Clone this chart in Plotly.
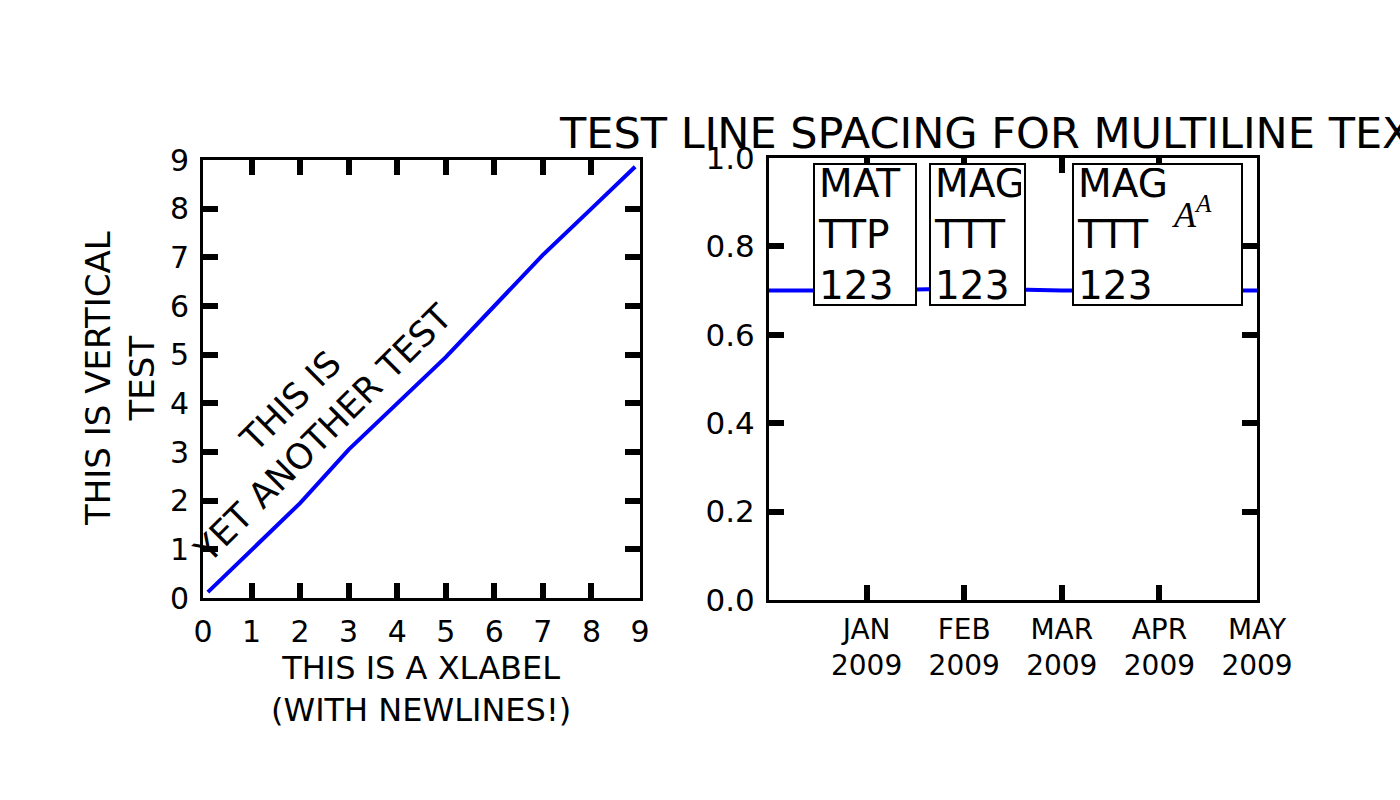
import plotly.graph_objects as go

# ---- data ----
left_x = [0.1, 1, 2, 3, 4, 5, 6, 7, 8, 8.9]
left_y = [0.12, 1.0, 1.95, 3.05, 4.0, 4.95, 6.0, 7.05, 8.0, 8.86]
left_ticks = list(range(10))

right_x = [0, 1, 2, 3, 4, 5]
right_y = [0.70, 0.70, 0.705, 0.70, 0.70, 0.70]
month_pos = [1, 2, 3, 4, 5]
month_labels = ["JAN<br>2009", "FEB<br>2009", "MAR<br>2009", "APR<br>2009", "MAY<br>2009"]
y2_ticks = [0.0, 0.2, 0.4, 0.6, 0.8, 1.0]

box_texts = ["MAT<br>TTP<br>123", "MAG<br>TTT<br>123", "MAG<br>TTT<br>123"]
box_x = [0.45, 1.64, 3.10]
box_w = [94, 87, 161]

title_text = "TEST LINE SPACING FOR MULTILINE TEXT"
xlabel_text = "THIS IS A XLABEL<br>(WITH NEWLINES!)"
ylabel_text = "THIS IS VERTICAL<br>TEST"
rot_text = "THIS IS<br>YET ANOTHER TEST"

FONT = "DejaVu Sans"
W, H = 1400, 800

fig = go.Figure()
fig.add_trace(go.Scatter(x=left_x, y=left_y, mode="lines",
                         line=dict(color="#0000ff", width=4), xaxis="x", yaxis="y",
                         showlegend=False, hoverinfo="skip"))
fig.add_trace(go.Scatter(x=right_x, y=right_y, mode="lines",
                         line=dict(color="#0000ff", width=4), xaxis="x2", yaxis="y2",
                         showlegend=False, hoverinfo="skip"))


def axis_style(size, standoff=5):
    return dict(showline=True, linewidth=3, linecolor="black", mirror="ticks",
                ticks="inside", ticklen=15, tickwidth=6, tickcolor="black",
                showgrid=False, zeroline=False, automargin=False,
                tickfont=dict(family=FONT, size=size, color="black"),
                ticklabelstandoff=standoff)


fig.update_layout(
    width=W, height=H,
    margin=dict(l=0, r=0, t=0, b=0),
    paper_bgcolor="white", plot_bgcolor="white",
    font=dict(family=FONT, color="black"),
    xaxis=dict(domain=[203 / W, 640 / W], range=[0, 9], tickvals=left_ticks,
               anchor="y", **axis_style(30)),
    yaxis=dict(domain=[1 - 598 / H, 1 - 160 / H], range=[0, 9], tickvals=left_ticks,
               anchor="x", **axis_style(30)),
    xaxis2=dict(domain=[769 / W, 1257 / W], range=[0, 5], tickvals=month_pos,
                ticktext=month_labels, anchor="y2", **axis_style(28, 2)),
    yaxis2=dict(domain=[1 - 600 / H, 1 - 158 / H], range=[0, 1], tickvals=y2_ticks,
                tickformat=".1f", anchor="x2", **axis_style(31)),
)

ann = []
# rotated text in left panel
ann.append(dict(x=2.15, y=3.72, xref="x", yref="y", text=rot_text, textangle=-45,
                showarrow=False, font=dict(family=FONT, size=35, color="black"),
                align="center", xanchor="center", yanchor="middle"))
# axis labels
ann.append(dict(x=421.5 / W, y=1 - 689 / H, xref="paper", yref="paper", text=xlabel_text,
                xanchor="center", yanchor="middle",
                showarrow=False, font=dict(family=FONT, size=32, color="black"),
                align="center"))
ann.append(dict(x=120 / W, y=1 - 379 / H, xref="paper", yref="paper", text=ylabel_text,
                xanchor="center", yanchor="middle",
                textangle=-90, showarrow=False, font=dict(family=FONT, size=34, color="black"),
                align="center"))
# title
ann.append(dict(x=557 / W, y=1 - 133 / H, xref="paper", yref="paper", text=title_text,
                xanchor="left", yanchor="middle", showarrow=False,
                font=dict(family=FONT, size=43, color="black")))
# boxed texts
for t, bx, bw in zip(box_texts, box_x, box_w):
    ann.append(dict(x=bx, y=0.989, xref="x2", yref="y2", text=t, xanchor="left",
                    yanchor="top", showarrow=False, align="left", width=bw, height=133,
                    bgcolor="white", bordercolor="black", borderwidth=2, borderpad=3,
                    font=dict(family=FONT, size=39, color="black")))
# math superscript in the third box
ann.append(dict(x=(1170 - 769) / 97.6, y=(600 - 212) / 442, xref="x2", yref="y2",
                text="<i>A<sup>A</sup></i>", xanchor="left", yanchor="middle",
                showarrow=False, font=dict(family="Liberation Serif", size=36, color="black")))
fig.update_layout(annotations=ann)

fig.write_html("out.html")
